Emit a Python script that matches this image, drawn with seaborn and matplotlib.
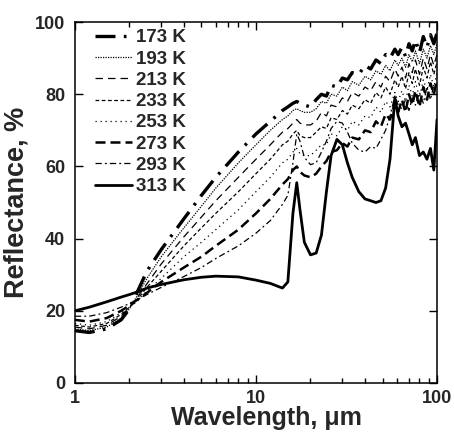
import matplotlib
matplotlib.use("Agg")
import matplotlib.pyplot as plt
import seaborn as sns
import numpy as np
import pandas as pd
from matplotlib.ticker import LogLocator, NullFormatter, FixedLocator

# wavelength grid (um), shared by all curves
lam = [1.0, 1.2, 1.5, 1.8, 2.0, 2.2, 2.5, 3.0, 4.0, 5.0, 6.0, 8.0, 10.0, 12.0, 14.0,
       15.0, 16.0, 16.8, 17.5, 18.5, 20.0, 21.5, 23.0, 24.5, 26.0, 28.0, 30.0, 32.0,
       34.0, 37.0, 40.0, 43.0, 46.0, 49.0, 52.0, 55.0, 58.5, 61.0, 64.0, 67.0, 70.0,
       73.0, 76.0, 80.0, 84.0, 88.0, 92.0, 96.0, 100.0]

r173 = [14.5, 14, 15, 17.5, 20.5, 25, 31, 37, 45.5, 52, 57, 64, 69, 72.5, 75.5,
        76.5, 77.5, 78, 77.5, 77, 76.5, 78.5, 80, 79.5, 82.5, 82, 84.5, 84,
        86, 85.5, 88, 87, 89.5, 88.5, 91, 90, 92.5, 91, 93, 90.5, 94,
        92, 95, 91.5, 96, 93, 96.5, 94, 97]
r193 = [15, 14.5, 15.5, 18, 20.5, 24, 29, 35, 43, 49, 54, 61, 66, 70, 73,
        74, 75.5, 76, 75.5, 75, 75, 76, 78, 77.5, 80, 79.5, 82, 81,
        83.5, 82.5, 85, 84, 86.5, 85.5, 88, 86.5, 89.5, 88, 90, 87.5, 91,
        89, 92, 88.5, 92.5, 90, 93.5, 91, 94]
r213 = [15.5, 15, 16, 18.5, 21, 23.5, 27.5, 33, 40.5, 46, 50.5, 57, 62, 66, 69.5,
        70.5, 72, 73, 72, 71.5, 71.5, 72.5, 75, 74, 77, 76.5, 79, 78,
        80.5, 79.5, 82, 81, 83.5, 82, 85, 83.5, 87, 85, 87.5, 84.5, 88.5,
        86, 89.5, 85.5, 90, 87, 91, 88, 91]
r233 = [16, 15.5, 16.5, 19, 21, 23, 26.5, 31, 38, 43, 47, 53, 58, 62, 66,
        67, 69, 70, 68.5, 68, 68, 69.5, 71, 70.5, 73.5, 73, 75.5, 74.5,
        77, 76, 78.5, 77.5, 80.5, 79, 82, 80, 84, 82, 85, 81.5, 86,
        83, 87, 82.5, 87.5, 84.5, 89, 85.5, 89]
r253 = [16.5, 16, 17, 19.5, 21, 22.5, 25.5, 29, 35, 39, 42.5, 48, 53, 57, 61,
        62, 64, 65, 63.5, 63, 63, 64.5, 66, 66, 69, 68.5, 71, 70,
        72.5, 71.5, 74, 73.5, 76.5, 75, 78, 76.5, 80.5, 78, 81, 78, 82.5,
        79.5, 83.5, 79, 84, 81, 85.5, 82, 86]
r273 = [17.5, 17, 18, 20, 21.5, 23, 25, 28, 32, 35, 38, 42.5, 47, 51, 55,
        56.5, 59, 60, 58.5, 57.5, 57, 58, 60, 61.5, 64, 64.5, 66.5, 65.5,
        68, 67.5, 70, 69.5, 72.5, 71, 74.5, 73, 77.5, 75, 78.5, 75, 80,
        77, 81, 76.5, 82, 78.5, 83, 80, 84]
r293 = [18.5, 18.5, 19.5, 21, 22, 23, 24.5, 26.5, 29.5, 32, 34.5, 38, 41.5, 45, 49.5,
        52, 61, 69, 67, 62.5, 60.5, 61, 64, 67, 70.5, 72.5, 72, 69.5,
        66.5, 64.5, 64, 65.5, 65, 67.5, 70, 74, 79.5, 77, 76, 78.5, 75.5,
        79, 77, 80.5, 77.5, 82, 78.5, 82.5, 83]
r313 = [20, 21, 22.5, 23.8, 24.5, 25.2, 26.3, 27.3, 28.6, 29.3, 29.6, 29.4, 28.5, 27.6, 26.3,
        28, 47, 55.5, 48, 39, 35.5, 36, 41, 53, 63, 67.5, 66, 61,
        57, 53, 51, 50.5, 50, 50.5, 54, 62, 79, 74, 71, 72, 69,
        66, 68, 63, 64, 62, 65, 59, 73]

temps = ["173 K", "193 K", "213 K", "233 K", "253 K", "273 K", "293 K", "313 K"]
curves = [r173, r193, r213, r233, r253, r273, r293, r313]

# line style per temperature: (linewidth, dash pattern)
styles = {
    "173 K": (2.4, (0, (6, 2.5, 0.8, 2.5))),
    "193 K": (0.9, (0, (1, 1))),
    "213 K": (0.9, (0, (6, 4))),
    "233 K": (0.9, (0, (3, 2))),
    "253 K": (0.9, (0, (1, 3))),
    "273 K": (1.8, (0, (4, 2))),
    "293 K": (0.9, (0, (5, 2.5, 1.5, 2.5))),
    "313 K": (2.0, "-"),
}

df = pd.DataFrame({
    "lam": np.tile(lam, len(temps)),
    "R": np.concatenate(curves),
    "T": np.repeat(temps, len(lam)),
})

sns.set_style("ticks")
plt.rcParams["font.family"] = ["Liberation Sans", "DejaVu Sans"]
plt.rcParams["font.weight"] = "bold"

fig = plt.figure(figsize=(4.54, 4.33), dpi=100)
ax = fig.add_axes([0.165, 0.1155, 0.7976, 0.8335])

for t in temps:
    lw, ls = styles[t]
    sns.lineplot(data=df[df["T"] == t], x="lam", y="R", ax=ax, color="black",
                 linewidth=lw, linestyle=ls, label=t, legend=False)

ax.set_xscale("log")
ax.set_xlim(1, 100)
ax.set_ylim(0, 100)
ax.xaxis.set_major_locator(FixedLocator([1, 10, 100]))
ax.set_xticklabels(["1", "10", "100"])
ax.xaxis.set_minor_locator(LogLocator(base=10, subs=np.arange(2, 10)))
ax.xaxis.set_minor_formatter(NullFormatter())
ax.set_yticks([0, 20, 40, 60, 80, 100])

ax.tick_params(which="both", direction="in", top=True, right=True,
               labelsize=13, width=1, color="black")
ax.tick_params(axis="y", pad=7)
ax.tick_params(axis="x", pad=5)
ax.tick_params(which="major", length=6)
ax.tick_params(which="minor", length=3.5)
for lab in ax.get_xticklabels() + ax.get_yticklabels():
    lab.set_fontweight("bold")
for sp in ax.spines.values():
    sp.set_linewidth(1.1)
    sp.set_color("black")

ax.set_xlabel("Wavelength, μm", fontsize=18, fontweight="bold")
ax.xaxis.set_label_coords(0.528, -0.065, transform=ax.transAxes)
ax.xaxis.label.set_va("top")
ax.set_ylabel("Reflectance, %", fontsize=19.5, fontweight="bold", labelpad=4)

ax.legend(loc="upper left", bbox_to_anchor=(0.055, 0.98), frameon=False,
          handlelength=2.0, labelspacing=0.22, handletextpad=0.2,
          borderaxespad=0, borderpad=0,
          prop={"weight": "bold", "size": 13.5})

fig.savefig("out.png", dpi=100)
